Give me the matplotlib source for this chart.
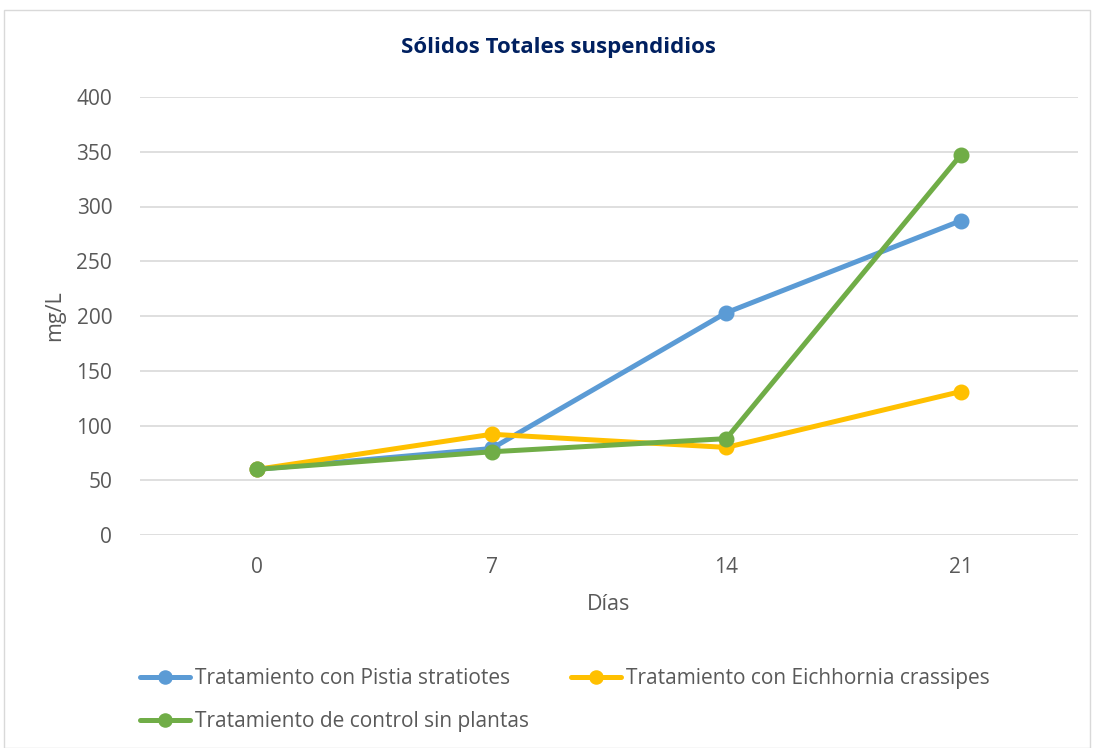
import matplotlib
matplotlib.use("Agg")
import matplotlib.pyplot as plt
from matplotlib.patches import Rectangle

dias = ["0", "7", "14", "21"]
pistia = [60, 79, 203, 287]
eichhornia = [60, 92, 80, 131]
control = [60, 76, 88, 347]
labels = ["Tratamiento con Pistia stratiotes",
          "Tratamiento con Eichhornia crassipes",
          "Tratamiento de control sin plantas"]
colors = ["#5B9BD5", "#FFC000", "#70AD47"]
yticks = [0, 50, 100, 150, 200, 250, 300, 350, 400]

plt.rcParams['font.family'] = ['Open Sans', 'DejaVu Sans']
txt = "#595959"

fig = plt.figure(figsize=(10.94, 7.48), dpi=100)
fig.patches.append(Rectangle((4/1094, 0), 1086/1094, 1 - 10/748, transform=fig.transFigure,
                             fill=False, edgecolor="#D9D9D9", linewidth=1))
ax = fig.add_axes([140/1094, 1 - 535/748, 938/1094, 438/748])
x = list(range(len(dias)))
handles = []
for vals, c, lab in zip([pistia, eichhornia, control], colors, labels):
    h, = ax.plot(x, vals, color=c, linewidth=3.6, marker='o', markersize=10.5,
                 solid_capstyle='round', label=lab)
    handles.append(h)

ax.set_xlim(-0.5, 3.5)
ax.set_ylim(0, 400)
ax.set_yticks(yticks)
ax.set_xticks(x)
ax.set_xticklabels(dias)
ax.grid(axis='y', color="#D9D9D9", linewidth=1.2)
ax.set_axisbelow(True)
for s in ax.spines.values():
    s.set_visible(False)
ax.tick_params(length=0, labelsize=15, colors=txt)
ax.tick_params(axis='x', pad=16)
ax.tick_params(axis='y', pad=20)
ax.set_xlabel("Días", fontsize=15.5, color=txt, labelpad=11)
ax.set_ylabel("mg/L", fontsize=15.5, color=txt, labelpad=8)
fig.text(558/1094, 1 - 47/748, "Sólidos Totales suspendidios", ha='center', va='center',
         fontsize=16, fontweight='bold', color="#002060")

order = [handles[0], handles[2], handles[1]]
leg = fig.legend(handles=order, loc='upper left', bbox_to_anchor=(140/1094, 1 - 668/748),
                 ncol=2, frameon=False, fontsize=15, handlelength=2.4, handletextpad=0.25,
                 columnspacing=2.0, labelcolor=txt, markerscale=0.9, labelspacing=1.05,
                 borderaxespad=0, borderpad=0)
fig.savefig("out.png", dpi=100)
